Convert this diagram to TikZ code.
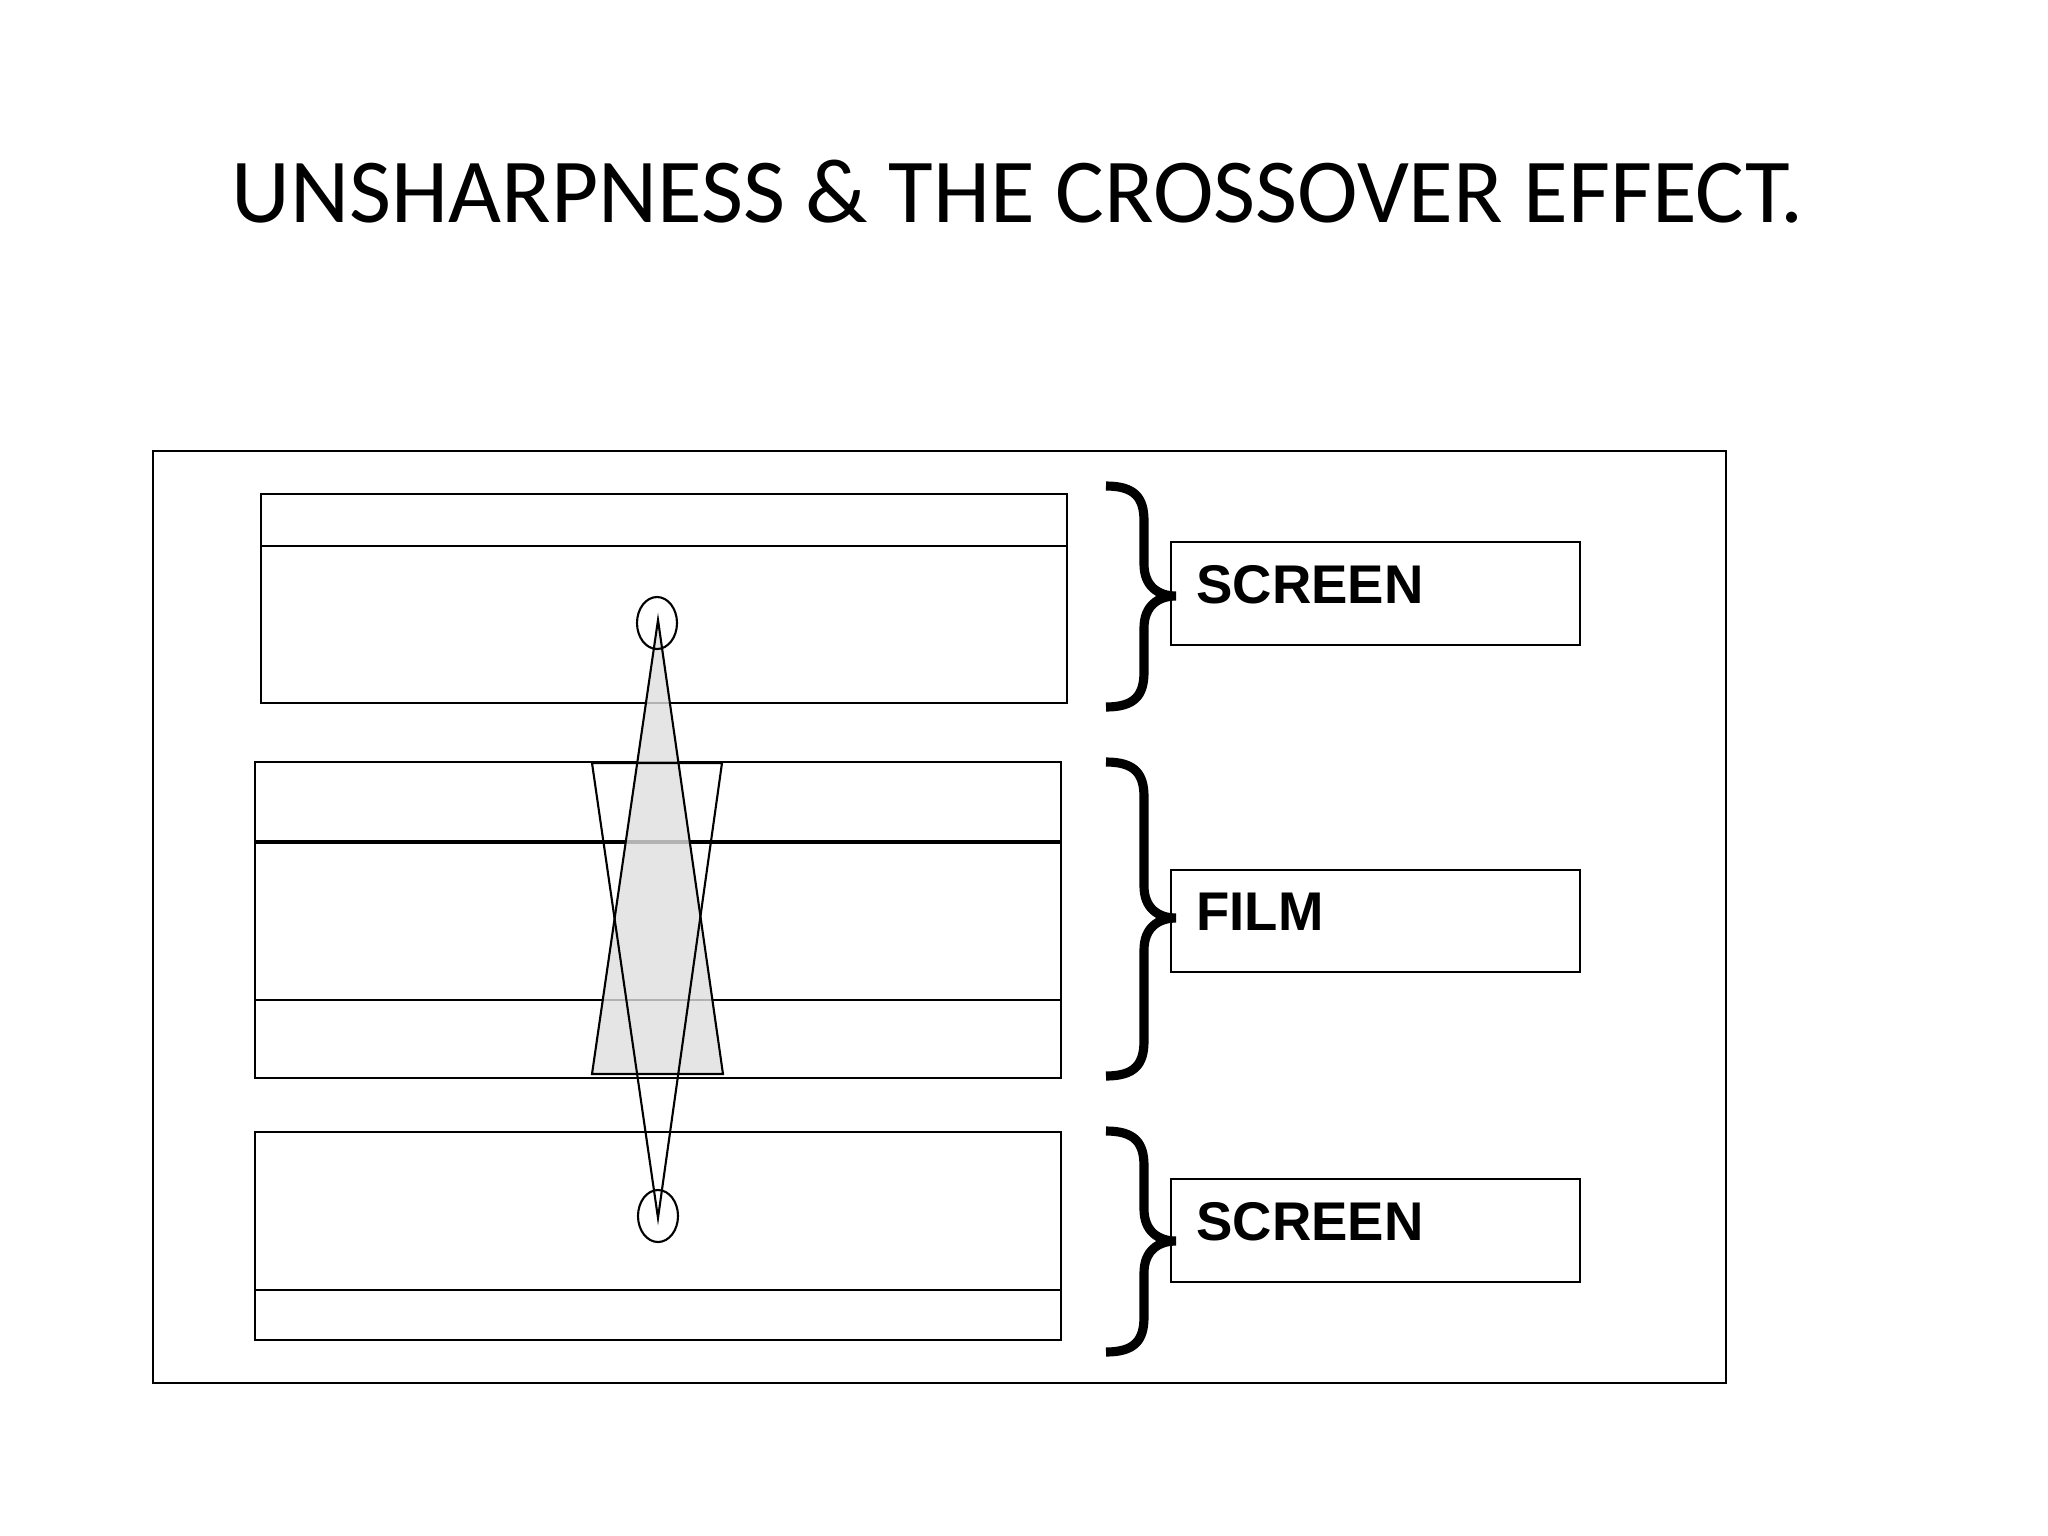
\documentclass[tikz,border=0pt]{standalone}
\usepackage{fontspec}
\setmainfont{Carlito}
\newfontfamily\arialb{Liberation Sans}
\begin{document}
\begin{tikzpicture}[x=0.01cm,y=-0.01cm,
  box/.style={draw,line width=0.6pt},
  lbl/.style={draw,line width=0.6pt,minimum width=409\pgflinewidth,anchor=north west,inner sep=0pt},
  brc/.style={line width=2.6pt},
  lbltext/.style={anchor=west,font=\arialb\bfseries\fontsize{15.5}{18}\selectfont}]
\useasboundingbox (0,0) rectangle (2048,1536);
\node (title) at (1018,192) {\fontsize{26}{30}\selectfont UNSHARPNESS \& THE CROSSOVER EFFECT.};
\draw[box] (153,451) rectangle (1726,1383);
% top screen
\draw[box] (261,494) rectangle (1067,703);
\draw[box] (261,546) -- (1067,546);
% film
\draw[box] (255,762) rectangle (1061,1078);
\draw[line width=1.2pt] (255,842) -- (1061,842);
\draw[box] (255,1000) -- (1061,1000);
% bottom screen
\draw[box] (255,1132) rectangle (1061,1340);
\draw[box] (255,1290) -- (1061,1290);
% beams
\draw[box,fill=gray!25,fill opacity=0.8] (658,620) -- (592,1074) -- (723,1074) -- cycle;
\draw[box] (658,1218) -- (592,763) -- (722,763) -- cycle;
\draw[box] (657,623) ellipse (20 and 26);
\draw[box] (658,1216) ellipse (20 and 26);
% braces
\foreach \a/\m/\b in {486/596/707, 762/918/1076, 1131/1241/1352}{
  \draw[brc] (1106,\a) .. controls (1135,\a) and (1144,\a+12) .. (1144,\a+35)
    -- (1144,\m-32) .. controls (1144,\m-10) and (1158,\m) .. (1176,\m)
    .. controls (1158,\m) and (1144,\m+10) .. (1144,\m+32)
    -- (1144,\b-35) .. controls (1144,\b-12) and (1135,\b) .. (1106,\b);
}
% labels
\draw[box] (1171,542) rectangle (1580,645);
\draw[box] (1171,870) rectangle (1580,972);
\draw[box] (1171,1179) rectangle (1580,1282);
\node[lbltext] (l1) at (1184,585) {SCREEN};
\node[lbltext] (l2) at (1184,912) {FILM};
\node[lbltext] (l3) at (1184,1222) {SCREEN};
\end{tikzpicture}
\end{document}
